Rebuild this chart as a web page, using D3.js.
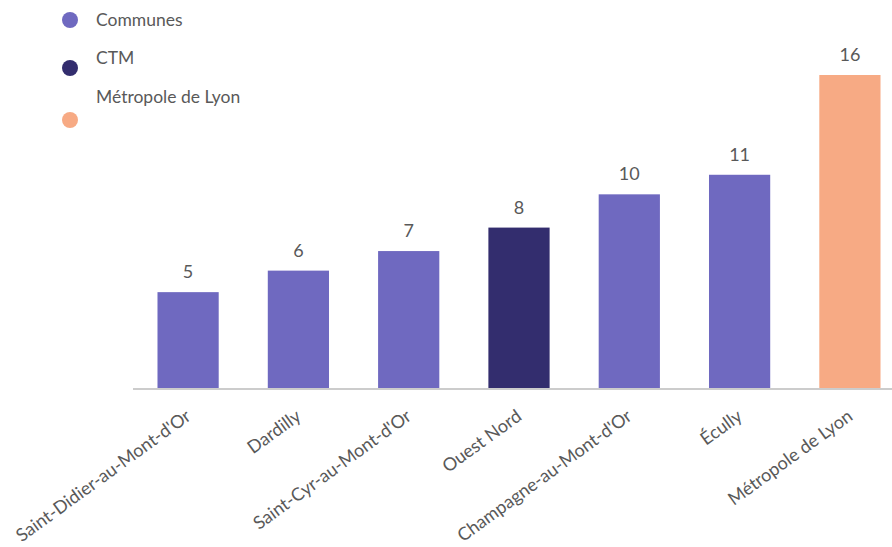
<!DOCTYPE html>
<html>
<head>
<meta charset="utf-8">
<script src="https://cdn.jsdelivr.net/npm/d3@7"></script>
<style>
  body { margin: 0; background: #fff; }
  text { font-family: Lato, "Open Sans", sans-serif; }
</style>
</head>
<body>
<div id="chart"></div>
<script>
// Chart data
const categories = [
  "Saint-Didier-au-Mont-d'Or",
  "Dardilly",
  "Saint-Cyr-au-Mont-d'Or",
  "Ouest Nord",
  "Champagne-au-Mont-d'Or",
  "Écully",
  "Métropole de Lyon"
];
const values = [4.9, 6, 7, 8.2, 9.9, 10.9, 16];
const groups = ["Communes", "Communes", "Communes", "CTM", "Communes", "Communes", "Métropole de Lyon"];
const legendNames = ["Communes", "CTM", "Métropole de Lyon"];
const legendColors = ["#6f69c0", "#332d6e", "#f7aa84"];

const W = 892, H = 547;
const baseline = 388;

const svg = d3.select("#chart").append("svg").attr("width", W).attr("height", H);

const data = categories.map((c, i) => ({ name: c, value: values[i], group: groups[i] }));

// Scales
const xScale = d3.scaleBand().domain(categories).range([133, 905]).paddingInner(0.445).paddingOuter(0.222);
const yScale = d3.scaleLinear().domain([0, 16]).range([baseline, 75]);
const colorScale = d3.scaleOrdinal().domain(legendNames).range(legendColors);

// Bars
svg.selectAll(".bar")
  .data(data)
  .enter()
  .append("rect")
  .attr("class", "bar")
  .attr("x", (d) => xScale(d.name))
  .attr("y", (d) => yScale(d.value))
  .attr("width", xScale.bandwidth())
  .attr("height", (d) => baseline - yScale(d.value))
  .attr("fill", (d) => colorScale(d.group));

// Value labels
svg.selectAll(".val")
  .data(data)
  .enter()
  .append("text")
  .attr("class", "val")
  .attr("x", (d) => xScale(d.name) + xScale.bandwidth() / 2)
  .attr("y", (d) => yScale(d.value) - 14)
  .attr("text-anchor", "middle")
  .attr("font-size", 18)
  .attr("fill", "#595959")
  .text((d) => d3.format(".0f")(d.value));

// X axis
const xAxis = svg.append("g")
  .attr("class", "x-axis")
  .attr("transform", `translate(0,${baseline + 1})`)
  .call(d3.axisBottom(xScale).tickSize(0).tickSizeOuter(0));
xAxis.select(".domain").attr("stroke", "#ccc").attr("stroke-width", 2).attr("d", "M133,0H892");
xAxis.selectAll("text")
  .attr("font-size", 18)
  .attr("fill", "#595959")
  .style("font-family", "Lato, 'Open Sans', sans-serif")
  .style("text-anchor", "end")
  .attr("dx", "-0.8em")
  .attr("dy", "1.3em")
  .attr("transform", "rotate(-36)");

// Legend
const legend = svg.append("g").attr("class", "legend");
const legendY = [20, 68, 120];
const legendTextY = [20, 58, 97];
legendNames.forEach((name, i) => {
  legend.append("circle")
    .attr("cx", 70)
    .attr("cy", legendY[i])
    .attr("r", 8)
    .attr("fill", legendColors[i]);
  legend.append("text")
    .attr("x", 96)
    .attr("y", legendTextY[i])
    .attr("dy", "0.35em")
    .attr("font-size", 17.5)
    .attr("fill", "#595959")
    .text(name);
});
</script>
</body>
</html>
